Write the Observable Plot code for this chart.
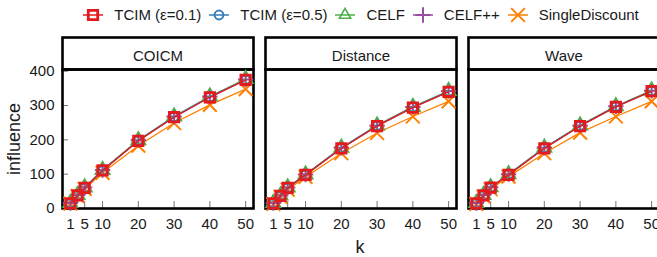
<!DOCTYPE html>
<html><head><meta charset="utf-8">
<script src="https://cdn.jsdelivr.net/npm/d3@7"></script>
<script src="https://cdn.jsdelivr.net/npm/@observablehq/plot@0.6"></script>
<style>
body{margin:0;background:#fff;font-family:"Liberation Sans",Arial,sans-serif;color:#1a1a1a}
#wrap{width:657px;height:257px;overflow:hidden;position:relative;background:#fff}
.legend{display:flex;justify-content:center;align-items:center;height:29px;padding-left:61px;box-sizing:border-box;width:659px;font-size:15px;white-space:nowrap}
.item{display:flex;align-items:center;margin:0 3px}
.item svg{margin-right:9px}
.caption{height:20px;line-height:20px;font-size:18px;text-align:center;padding-left:61px;width:659px;box-sizing:border-box}
</style></head><body><div id="wrap"></div>
<script>
const models = ["COICM", "Distance", "Wave"];
const methods = ["TCIM (ε=0.1)", "TCIM (ε=0.5)", "CELF", "CELF++", "SingleDiscount"];
const kValues = [1, 3, 5, 10, 20, 30, 40, 50];
const xTicks = [1, 5, 10, 20, 30, 40, 50];
const yTicks = [0, 100, 200, 300, 400];
const colors = ["#e41a1c", "#377eb8", "#4daf4a", "#984ea3", "#ff7f00"];
const symbolNames = ["square", "circle", "triangle", "plus", "times"];

// COICM
const coicmTcim01 = [15, 38, 60, 111, 197, 266, 324, 375];
const coicmTcim05 = [15, 38, 60, 110, 198, 267, 325, 375];
const coicmCelf = [16, 39, 61, 112, 199, 268, 326, 377];
const coicmCelfpp = [16, 39, 61, 112, 199, 268, 326, 376];
const coicmSingle = [14, 36, 57, 104, 183, 249, 302, 348];
// Distance
const distTcim01 = [15, 37, 60, 98, 175, 240, 294, 340];
const distTcim05 = [15, 37, 60, 98, 176, 241, 295, 341];
const distCelf = [16, 38, 61, 99, 177, 242, 296, 342];
const distCelfpp = [16, 38, 61, 99, 177, 242, 296, 342];
const distSingle = [13, 34, 55, 92, 161, 220, 268, 312];
// Wave
const waveTcim01 = [15, 38, 61, 98, 175, 240, 296, 342];
const waveTcim05 = [15, 38, 61, 99, 176, 241, 297, 342];
const waveCelf = [16, 39, 62, 100, 177, 242, 298, 344];
const waveCelfpp = [16, 39, 62, 100, 177, 242, 298, 343];
const waveSingle = [13, 35, 56, 93, 161, 221, 268, 312];

const seriesByModel = [
  [coicmTcim01, coicmTcim05, coicmCelf, coicmCelfpp, coicmSingle],
  [distTcim01, distTcim05, distCelf, distCelfpp, distSingle],
  [waveTcim01, waveTcim05, waveCelf, waveCelfpp, waveSingle]
];

const rows = [];
models.forEach((m, mi) => methods.forEach((s, si) =>
  seriesByModel[mi][si].forEach((v, i) => rows.push({model: m, method: s, k: kValues[i], value: v}))));

const markerR = {"TCIM (ε=0.1)": 5.3, "TCIM (ε=0.5)": 4.4, "CELF": 5.4, "CELF++": 5, "SingleDiscount": 6.3};
const markerW = {"TCIM (ε=0.1)": 2.8, "TCIM (ε=0.5)": 2, "CELF": 1.6, "CELF++": 2, "SingleDiscount": 2};

const seriesMarks = [];
[...methods].reverse().forEach(s => {
  const d = rows.filter(r => r.method === s);
  seriesMarks.push(Plot.line(d, {x: "k", y: "value", fx: "model", stroke: "method", strokeWidth: 1.3}));
  seriesMarks.push(Plot.dot(d, {x: "k", y: "value", fx: "model", stroke: "method", symbol: "method", r: markerR[s], strokeWidth: markerW[s], fill: "none"}));
});

const panelH = 139;
const chart = Plot.plot({
  width: 657,
  height: 208,
  marginTop: 40,
  marginBottom: 29,
  marginLeft: 61,
  marginRight: 0,
  style: {fontFamily: "'Liberation Sans', Arial, sans-serif", fontSize: "15px", color: "#1a1a1a", background: "#fff", overflow: "visible"},
  fx: {domain: models, range: [61, 659], paddingInner: 12.5 / 203.5, paddingOuter: 0, axis: null},
  x: {domain: [-1.2, 52.2]},
  y: {domain: [0, 405]},
  color: {domain: methods, range: colors},
  symbol: {domain: methods, range: symbolNames},
  marks: [
    Plot.frame({stroke: "#000", strokeWidth: 2.6, insetTop: -32, insetBottom: panelH}),
    Plot.text(models, {fx: d => d, text: d => d, frameAnchor: "top", dy: -19, fontSize: 15, fill: "#1a1a1a"}),
    Plot.axisX({ticks: xTicks, tickSize: -7, tickFormat: () => "", label: null, stroke: "#777"}),
    Plot.axisX({ticks: xTicks, tickSize: 0, tickPadding: 10, label: null, fontSize: 15}),
    Plot.axisY({ticks: yTicks, tickSize: -6, tickFormat: () => "", label: null, stroke: "#777"}),
    Plot.axisY({ticks: yTicks, tickSize: 0, tickPadding: 8, label: null, fontSize: 15}),
    Plot.axisY({ticks: [], tickSize: 0, label: "influence", labelAnchor: "center", labelOffset: 55, labelArrow: "none", fontSize: 18}),
    Plot.frame({stroke: "#000", strokeWidth: 2.6}),
    ...seriesMarks
  ]
});

// Legend
const symMap = {square: d3.symbolSquare, circle: d3.symbolCircle, triangle: d3.symbolTriangle2, plus: d3.symbolPlus, times: d3.symbolTimes};
const colorScale = chart.scale("color");
const legend = document.createElement("div");
legend.className = "legend";
methods.forEach((s, si) => {
  const item = document.createElement("div");
  item.className = "item";
  const svg = d3.create("svg").attr("width", 24).attr("height", 16);
  const c = colorScale.apply(s);
  svg.append("line").attr("x1", 2).attr("x2", 22).attr("y1", 8).attr("y2", 8).attr("stroke", c).attr("stroke-width", 1.5);
  svg.append("path").attr("transform", "translate(12,8)")
    .attr("d", d3.symbol(symMap[symbolNames[si]], Math.PI * markerR[s] * markerR[s])())
    .attr("fill", "none").attr("stroke", c).attr("stroke-width", markerW[s]);
  item.appendChild(svg.node());
  const t = document.createElement("span");
  t.textContent = s;
  item.appendChild(t);
  legend.appendChild(item);
});

const caption = document.createElement("div");
caption.className = "caption";
caption.textContent = "k";

const wrap = document.getElementById("wrap");
wrap.appendChild(legend);
wrap.appendChild(chart);
wrap.appendChild(caption);
</script></body></html>
